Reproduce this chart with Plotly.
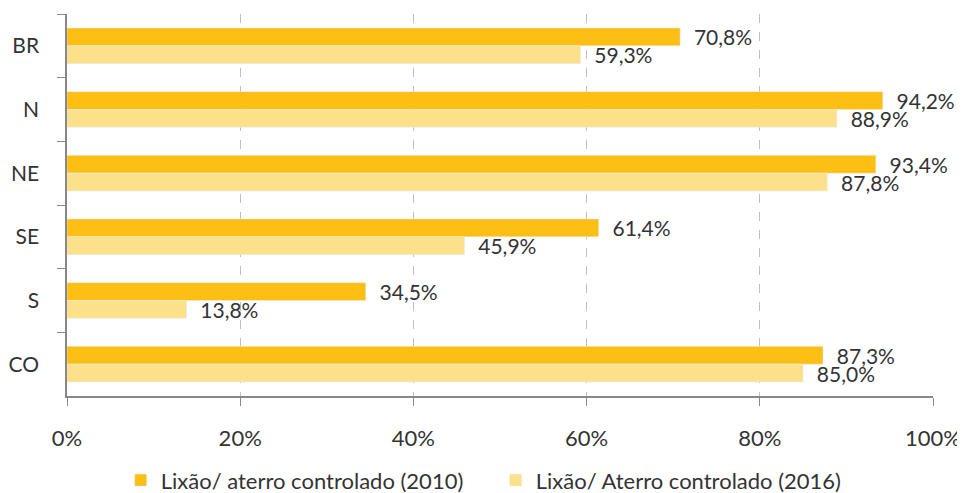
import plotly.graph_objects as go

categories = ["BR", "N", "NE", "SE", "S", "CO"]
values_2010 = [70.8, 94.2, 93.4, 61.4, 34.5, 87.3]
values_2016 = [59.3, 88.9, 87.8, 45.9, 13.8, 85.0]
name_2010 = "Lixão/ aterro controlado (2010)"
name_2016 = "Lixão/ Aterro controlado (2016)"
x_ticks = [0, 20, 40, 60, 80, 100]

def fmt(v):
    return "\u00a0\u00a0" + f"{v:.1f}".replace(".", ",") + "%"

FONT = "Lato, 'Open Sans', sans-serif"
fig = go.Figure()
fig.add_trace(go.Bar(
    y=categories, x=values_2010, orientation="h", name=name_2010,
    marker=dict(color="#FDBF14"), text=[fmt(v) for v in values_2010],
    textposition="outside", cliponaxis=False, constraintext="none",
    textfont=dict(size=21, color="#333333", family=FONT)))
fig.add_trace(go.Bar(
    y=categories, x=values_2016, orientation="h", name=name_2016,
    marker=dict(color="#FCE18A"), text=[fmt(v) for v in values_2016],
    textposition="outside", cliponaxis=False, constraintext="none",
    textfont=dict(size=21, color="#333333", family=FONT)))

fig.update_layout(
    width=965, height=493,
    margin=dict(l=59, r=40, t=6, b=105),
    barmode="group", bargap=0.44, bargroupgap=0,
    plot_bgcolor="white", paper_bgcolor="white",
    font=dict(family=FONT, size=20, color="#333333"),
    legend=dict(orientation="h", x=0.062, xanchor="left",
                y=0.042, yanchor="middle", yref="container",
                font=dict(size=22, color="#333333"), itemwidth=30,
                entrywidth=330, entrywidthmode="pixels",
                traceorder="normal"),
    showlegend=True,
)
fig.update_xaxes(
    range=[0, 100], tickvals=x_ticks, ticktext=[f"{t}%" for t in x_ticks],
    showgrid=True, gridcolor="#BFBFBF", griddash="dash", gridwidth=1,
    showline=True, linecolor="#888888", linewidth=1.5,
    ticks="outside", ticklen=8, tickcolor="#888888", automargin=False,
    ticklabelstandoff=14,
    zeroline=False, tickfont=dict(size=22, color="#333333"))
fig.update_yaxes(
    autorange="reversed", showline=True, linecolor="#888888", linewidth=1.5,
    ticks="outside", tickson="boundaries", ticklen=8, tickcolor="#888888",
    automargin=False,
    showgrid=False, tickfont=dict(size=21, color="#333333"), ticklabelstandoff=22)

fig.write_html("out.html")
